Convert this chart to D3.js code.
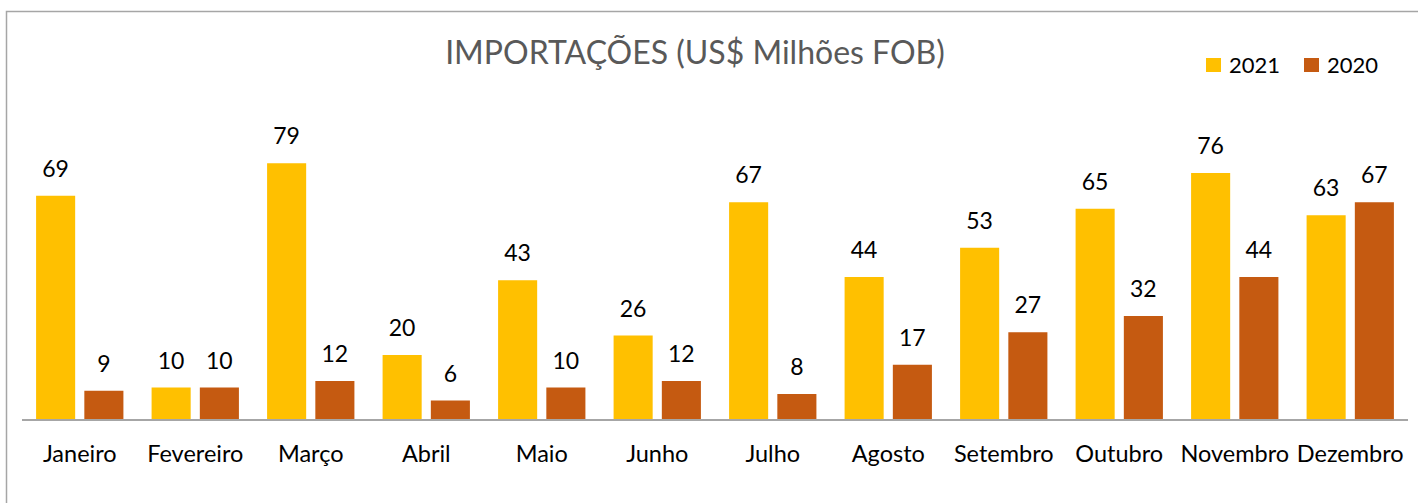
<!DOCTYPE html>
<html>
<head>
<meta charset="utf-8">
<script src="https://cdn.jsdelivr.net/npm/d3@7"></script>
<style>
  body { margin: 0; background: #fff; }
  text { font-family: Lato, "Open Sans", sans-serif; }
</style>
</head>
<body>
<div id="chart"></div>
<script>
var months = ["Janeiro", "Fevereiro", "Março", "Abril", "Maio", "Junho", "Julho", "Agosto", "Setembro", "Outubro", "Novembro", "Dezembro"];
var values2021 = [69, 10, 79, 20, 43, 26, 67, 44, 53, 65, 76, 63];
var values2020 = [9, 10, 12, 6, 10, 12, 8, 17, 27, 32, 44, 67];
var seriesNames = ["2021", "2020"];
var colors = ["#FFC000", "#C55A11"];

var width = 1418, height = 503;
var margin = {top: 127.5, right: 10, bottom: 83, left: 22};

var svg = d3.select("#chart").append("svg")
    .attr("width", width)
    .attr("height", height);

// outer frame
svg.append("rect")
    .attr("x", 6.5).attr("y", 11.5)
    .attr("width", width).attr("height", height)
    .attr("fill", "none")
    .attr("stroke", "#a6a6a6")
    .attr("stroke-width", 1.5);

var x0 = d3.scaleBand()
    .domain(months)
    .range([margin.left, width - margin.right])
    .paddingInner(0.244)
    .paddingOuter(0.122);

var x1 = d3.scaleBand()
    .domain(seriesNames)
    .range([0, x0.bandwidth()])
    .paddingInner(0.19)
    .paddingOuter(0);

var y = d3.scaleLinear()
    .domain([0, 90])
    .range([height - margin.bottom, margin.top]);

var rows = months.map(function(m, i) {
  return {month: m, vals: [{key: "2021", v: values2021[i], c: colors[0]}, {key: "2020", v: values2020[i], c: colors[1]}]};
});

var groups = svg.selectAll(".grp")
    .data(rows)
  .enter().append("g")
    .attr("class", "grp")
    .attr("transform", function(d) { return "translate(" + x0(d.month) + ",0)"; });

groups.selectAll("rect")
    .data(function(d) { return d.vals; })
  .enter().append("rect")
    .attr("x", function(d) { return x1(d.key); })
    .attr("y", function(d) { return y(d.v); })
    .attr("width", x1.bandwidth())
    .attr("height", function(d) { return y(0) - y(d.v); })
    .attr("fill", function(d) { return d.c; });

groups.selectAll(".lbl")
    .data(function(d) { return d.vals; })
  .enter().append("text")
    .attr("class", "lbl")
    .attr("x", function(d) { return x1(d.key) + x1.bandwidth() / 2; })
    .attr("y", function(d) { return y(d.v) - 19; })
    .attr("text-anchor", "middle")
    .attr("font-size", 23)
    .attr("fill", "#000")
    .text(function(d) { return d.v; });

// x axis
var xAxis = svg.append("g")
    .attr("transform", "translate(0," + y(0) + ")")
    .call(d3.axisBottom(x0).tickSize(0).tickPadding(25).tickSizeOuter(0));
xAxis.select(".domain").attr("stroke", "#a6a6a6").attr("stroke-width", 2)
    .attr("d", "M" + margin.left + ",0H" + (width - margin.right));
xAxis.selectAll("text").attr("font-size", 23.5).attr("fill", "#000")
    .style("font-family", "Lato, 'Open Sans', sans-serif");

// title
svg.append("text")
    .attr("x", 695)
    .attr("y", 64)
    .attr("text-anchor", "middle")
    .attr("font-size", 32)
    .attr("fill", "#595959")
    .text("IMPORTAÇÕES (US$ Milhões FOB)");

// legend
var legend = svg.selectAll(".legend")
    .data(seriesNames)
  .enter().append("g")
    .attr("class", "legend")
    .attr("transform", function(d, i) { return "translate(" + (1206 + i * 98) + ",58)"; });
legend.append("rect")
    .attr("width", 15).attr("height", 14)
    .attr("fill", function(d, i) { return colors[i]; });
legend.append("text")
    .attr("x", 23).attr("y", 14.5)
    .attr("font-size", 22)
    .attr("fill", "#000")
    .text(function(d) { return d; });
</script>
</body>
</html>
